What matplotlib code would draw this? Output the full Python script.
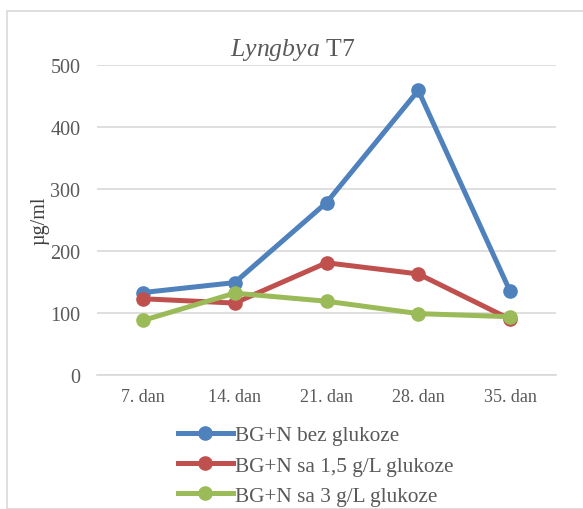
import matplotlib.pyplot as plt
from matplotlib.patches import Rectangle

# --- data ---
days = ["7. dan", "14. dan", "21. dan", "28. dan", "35. dan"]
bez_glukoze = [133, 149, 278, 459, 135]
sa_15_glukoze = [123, 116, 181, 163, 90]
sa_3_glukoze = [88, 132, 119, 99, 94]
labels = ["BG+N bez glukoze", "BG+N sa 1,5 g/L glukoze", "BG+N sa 3 g/L glukoze"]
colors = ["#4F81BD", "#C0504D", "#9BBB59"]

plt.rcParams["font.family"] = ["Liberation Serif", "DejaVu Serif"]
plt.rcParams["mathtext.fontset"] = "custom"
plt.rcParams["mathtext.it"] = "Liberation Serif:italic"
plt.rcParams["mathtext.rm"] = "Liberation Serif"

W, H = 583, 510
fig = plt.figure(figsize=(W / 100, H / 100), dpi=100)
ax = fig.add_axes([97 / W, 1 - 376 / H, (556 - 97) / W, (376 - 66) / H])

# chart border
fig.patches.append(Rectangle((7 / W, 0), 1, 1 - 12 / H, transform=fig.transFigure,
                             fill=False, edgecolor="#D9D9D9", linewidth=1.2))

x = range(len(days))
for vals, lab, col in zip([bez_glukoze, sa_15_glukoze, sa_3_glukoze], labels, colors):
    ax.plot(x, vals, color=col, linewidth=3.6, marker="o", markersize=9.5,
            label=lab, solid_joinstyle="round")

ax.set_xlim(-0.5, 4.5)
ax.set_ylim(0, 500)
ax.set_yticks(range(0, 501, 100))
ax.set_xticks(list(x))
ax.set_xticklabels(days)
ax.grid(axis="y", color="#D9D9D9", linewidth=1.2)
ax.set_axisbelow(True)
for s in ["top", "right", "left"]:
    ax.spines[s].set_visible(False)
ax.spines["bottom"].set_color("#D9D9D9")
ax.spines["bottom"].set_linewidth(1.2)
ax.tick_params(axis="y", length=0, pad=12, labelsize=14.5, labelcolor="#595959")
ax.tick_params(axis="x", length=0, pad=9, labelsize=13, labelcolor="#595959")

fig.text(40 / W, 1 - 221 / H, "µg/ml", rotation=90, ha="center", va="center",
         fontsize=14.5, color="#404040")
fig.text(293 / W, 1 - 50 / H, r"$\mathit{Lyngbya}$ T7", ha="center", va="center",
         fontsize=18.5, color="#595959")

fig.legend(loc="upper left", bbox_to_anchor=(167 / W, 1 - 416 / H), frameon=False,
           fontsize=15.3, handlelength=2.6, handletextpad=0.08, labelspacing=0.48,
           labelcolor="#595959", borderpad=0)

fig.savefig("out.png", dpi=100)
